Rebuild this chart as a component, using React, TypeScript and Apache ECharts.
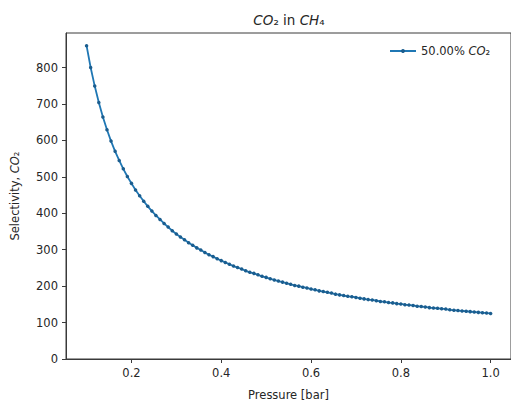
import React, { useEffect, useRef } from "react";
import * as echarts from "echarts";

// Pressure [bar] values of the plotted points
const pressure = [
  0.1, 0.1091, 0.1182, 0.1273, 0.1364, 0.1455, 0.1545, 0.1636, 0.1727, 0.1818, 0.1909,
  0.2, 0.2091, 0.2182, 0.2273, 0.2364, 0.2455, 0.2545, 0.2636, 0.2727, 0.2818, 0.2909,
  0.3, 0.3091, 0.3182, 0.3273, 0.3364, 0.3455, 0.3545, 0.3636, 0.3727, 0.3818, 0.3909,
  0.4, 0.4091, 0.4182, 0.4273, 0.4364, 0.4455, 0.4545, 0.4636, 0.4727, 0.4818, 0.4909,
  0.5, 0.5091, 0.5182, 0.5273, 0.5364, 0.5455, 0.5545, 0.5636, 0.5727, 0.5818, 0.5909,
  0.6, 0.6091, 0.6182, 0.6273, 0.6364, 0.6455, 0.6545, 0.6636, 0.6727, 0.6818, 0.6909,
  0.7, 0.7091, 0.7182, 0.7273, 0.7364, 0.7455, 0.7545, 0.7636, 0.7727, 0.7818, 0.7909,
  0.8, 0.8091, 0.8182, 0.8273, 0.8364, 0.8455, 0.8545, 0.8636, 0.8727, 0.8818, 0.8909,
  0.9, 0.9091, 0.9182, 0.9273, 0.9364, 0.9455, 0.9545, 0.9636, 0.9727, 0.9818, 0.9909,
  1.0,
];

// Selectivity values
const selectivity = [
  860, 800, 749, 704, 664, 629, 598, 570, 545, 522,
  501, 482, 464, 448, 433, 419, 406, 394, 383, 372,
  362, 352, 343, 335, 327, 319, 312, 305, 299, 292,
  286, 281, 275, 270, 265, 260, 255, 251, 247, 242,
  238, 235, 231, 227, 224, 220, 217, 214, 211, 208,
  205, 202, 200, 197, 195, 192, 190, 187, 185, 183,
  181, 178, 176, 174, 172, 171, 169, 167, 165, 163,
  162, 160, 158, 157, 155, 154, 152, 151, 149, 148,
  147, 145, 144, 143, 141, 140, 139, 138, 137, 135,
  134, 133, 132, 131, 130, 129, 128, 127, 126, 125,
];

const xTicks = [0.2, 0.4, 0.6, 0.8, 1.0];
const yTicks = [0, 100, 200, 300, 400, 500, 600, 700, 800];
const seriesName = "50.00% CO₂";

const FONT = "DejaVu Sans";
const TEXT = "#262626";
const AXIS = "#3a3a3a";
const BLUE = "#1f77b4";

export default function App() {
  const ref = useRef<HTMLDivElement>(null);

  useEffect(() => {
    const chart = echarts.init(ref.current!, null, { renderer: "svg" });
    chart.setOption({
      animation: false,
      backgroundColor: "#ffffff",
      textStyle: { fontFamily: FONT },
      graphic: [
        {
          type: "text",
          x: 289,
          y: 20,
          style: {
            text: "{i|CO}₂ in {i|CH}₄",
            fontFamily: FONT,
            fontSize: 13.5,
            fill: TEXT,
            align: "center",
            verticalAlign: "middle",
            rich: {
              i: { fontStyle: "italic", fontFamily: FONT, fontSize: 13.5, color: TEXT },
            },
          },
        },
      ],
      legend: {
        data: [seriesName],
        left: 384,
        top: 40,
        itemWidth: 26,
        itemHeight: 5,
        itemGap: 8,
        formatter: () => "50.00% {i|CO}₂",
        textStyle: {
          fontFamily: FONT,
          fontSize: 11.5,
          color: TEXT,
          rich: { i: { fontStyle: "italic", fontFamily: FONT, fontSize: 11.5, color: TEXT } },
        },
      },
      grid: {
        left: 66,
        top: 33,
        width: 447,
        height: 330.5,
        show: true,
        borderColor: AXIS,
        borderWidth: 1,
        backgroundColor: "transparent",
      },
      xAxis: {
        type: "value",
        min: 0.0542,
        max: 1.0454,
        name: "Pressure [bar]",
        nameLocation: "middle",
        nameGap: 30,
        nameTextStyle: { fontFamily: FONT, fontSize: 11.5, color: TEXT },
        axisLine: { show: true, lineStyle: { color: AXIS, width: 1 } },
        axisTick: { show: true, length: 4, customValues: xTicks, lineStyle: { color: AXIS } },
        axisLabel: {
          customValues: xTicks,
          margin: 8,
          fontFamily: FONT,
          fontSize: 11.5,
          color: TEXT,
          formatter: (v: number) => v.toFixed(1),
        },
        splitLine: { show: false },
      },
      yAxis: {
        type: "value",
        min: 0,
        max: 894.7,
        name: "Selectivity, {i|CO}₂",
        nameLocation: "middle",
        nameGap: 45,
        nameTextStyle: {
          fontFamily: FONT,
          fontSize: 11.5,
          color: TEXT,
          rich: { i: { fontStyle: "italic", fontFamily: FONT, fontSize: 11.5, color: TEXT } },
        },
        axisLine: { show: true, lineStyle: { color: AXIS, width: 1 } },
        axisTick: { show: true, length: 4, customValues: yTicks, lineStyle: { color: AXIS } },
        axisLabel: {
          customValues: yTicks,
          margin: 8,
          fontFamily: FONT,
          fontSize: 11.5,
          color: TEXT,
          formatter: (v: number) => String(Math.round(v)),
        },
        splitLine: { show: false },
      },
      series: [
        {
          name: seriesName,
          type: "line",
          data: pressure.map((p, i) => [p, selectivity[i]]),
          symbol: "circle",
          symbolSize: 3.5,
          showSymbol: true,
          lineStyle: { color: BLUE, width: 1.8 },
          itemStyle: { color: "#1b5d8e", borderWidth: 0 },
        },
      ],
    });
    return () => chart.dispose();
  }, []);

  return (
    <div
      ref={ref}
      style={{ width: 511, height: 406, position: "absolute", left: 0, top: 0 }}
    />
  );
}
